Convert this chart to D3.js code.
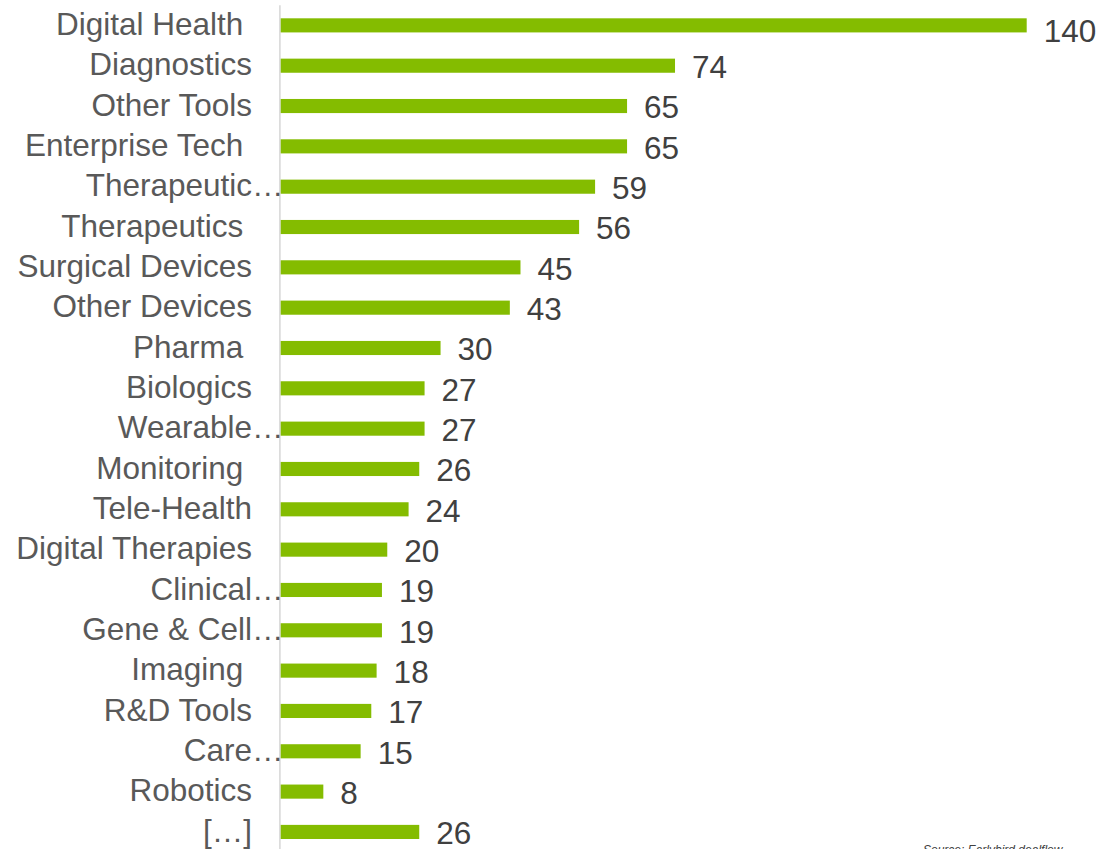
<!DOCTYPE html>
<html>
<head>
<meta charset="utf-8">
<script src="https://cdn.jsdelivr.net/npm/d3@7/dist/d3.min.js"></script>
<style>
  html, body { margin: 0; padding: 0; background: #ffffff; overflow: hidden; }
  svg { display: block; font-family: "Liberation Sans", Arial, sans-serif; }
</style>
</head>
<body>
<svg id="chart" width="1101" height="849"></svg>
<script>
// Deal counts by sector (labels keep the trailing spaces / truncation of the source sheet)
const categories = [
  "Digital Health ", "Diagnostics", "Other Tools", "Enterprise Tech ", "Therapeutic…",
  "Therapeutics ", "Surgical Devices", "Other Devices", "Pharma ", "Biologics",
  "Wearable…", "Monitoring ", "Tele-Health", "Digital Therapies", "Clinical…",
  "Gene & Cell…", "Imaging ", "R&D Tools", "Care…", "Robotics", "[…]"
];
const values = [140, 74, 65, 65, 59, 56, 45, 43, 30, 27, 27, 26, 24, 20, 19, 19, 18, 17, 15, 8, 26];
const sourceNote = "Source: Earlybird dealflow";

const svg = d3.select("#chart");

const barColor = "#84bc00";
const labelColor = "#595959";
const valueColor = "#404040";
const fontSize = 31.5;

const x = d3.scaleLinear().domain([0, 140]).range([280.7, 1026.7]);
const y = d3.scaleBand().domain(categories).range([5.2, 852.1]).paddingInner(0.65).paddingOuter(0.325);

const rows = categories.map((c, i) => ({ cat: c, value: values[i] }));
const maxValue = d3.max(values);

// baseline axis
svg.append("line")
  .attr("x1", x(0) - 0.8).attr("x2", x(0) - 0.8)
  .attr("y1", y.range()[0]).attr("y2", y.range()[1])
  .attr("stroke", "#d9d9d9").attr("stroke-width", 1.6);

// bars
svg.append("g").selectAll("rect").data(rows).join("rect")
  .attr("x", x(0))
  .attr("y", d => y(d.cat))
  .attr("width", d => x(d.value) - x(0))
  .attr("height", y.bandwidth())
  .attr("fill", barColor);

// category labels; truncated names overflow with their ellipsis toward the axis
const labelX = x(0) - 28.7;
const labels = svg.append("g").attr("font-size", fontSize).attr("fill", labelColor);
rows.forEach(d => {
  const cy = y(d.cat) + y.bandwidth() / 2 + 9.6;
  const truncated = d.cat.endsWith("…") && !d.cat.endsWith("]");
  const main = truncated ? d.cat.slice(0, -1) : d.cat;
  labels.append("text")
    .attr("x", labelX).attr("y", cy)
    .attr("text-anchor", "end")
    .attr("xml:space", "preserve")
    .style("white-space", "pre")
    .text(main);
  if (truncated) {
    labels.append("text")
      .attr("x", labelX).attr("y", cy)
      .attr("text-anchor", "start")
      .text("…");
  }
});

// value labels (the one at the right edge sits a little lower)
svg.append("g").attr("font-size", fontSize).attr("fill", valueColor)
  .selectAll("text").data(rows).join("text")
  .attr("x", d => x(d.value) + 17)
  .attr("y", d => y(d.cat) + y.bandwidth() / 2 + (d.value === maxValue ? 16.4 : 12.3))
  .text(d => d.value);

// source note
svg.append("text")
  .attr("x", 923).attr("y", 854)
  .attr("font-size", 12).attr("font-style", "italic")
  .attr("fill", valueColor)
  .text(sourceNote);
</script>
</body>
</html>
